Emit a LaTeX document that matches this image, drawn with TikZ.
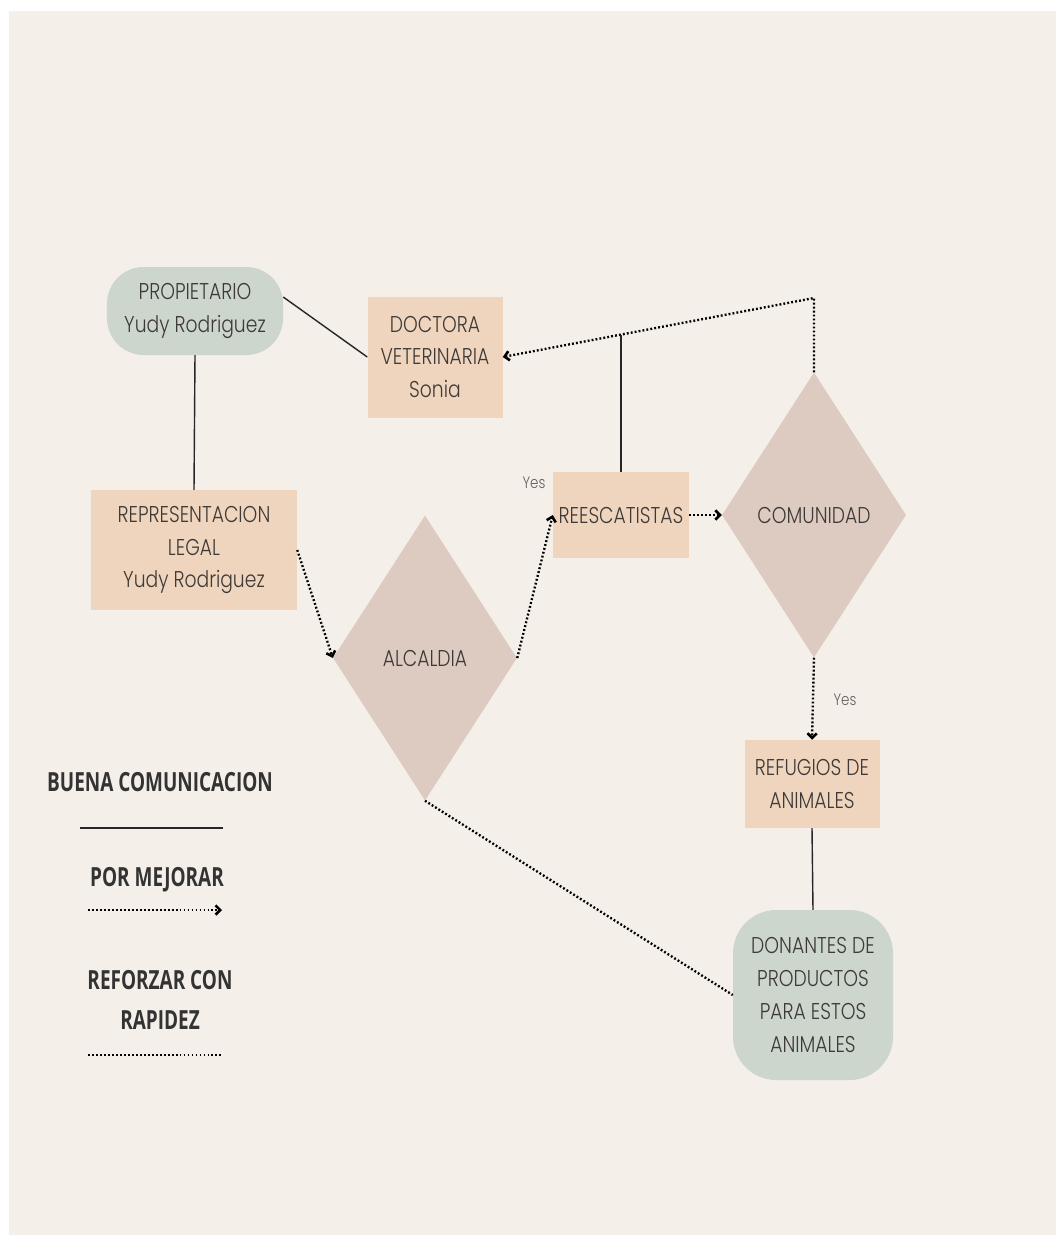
\documentclass[tikz,border=0pt]{standalone}
\usepackage{fontspec}
\usetikzlibrary{shapes.geometric,arrows.meta,calc}
\newfontfamily\boxfont{Poppins Light}[FakeStretch=0.82]
\newfontfamily\legendfont{Open Sans}[FakeStretch=0.72]
\definecolor{paper}{HTML}{F4EFE9}
\definecolor{sage}{HTML}{CCD6CD}
\definecolor{peach}{HTML}{F0D5BE}
\definecolor{rosy}{HTML}{DDCBC1}
\definecolor{ink}{HTML}{3E3A38}

\begin{document}
\begin{tikzpicture}[x=0.03cm, y=-0.03cm,
    every node/.style={font=\boxfont\fontsize{19.5}{28}\selectfont, text=ink, align=center},
    pill/.style={fill=sage, rounded corners=11mm, minimum width=52.8mm, minimum height=26.4mm},
    box/.style={fill=peach, inner sep=0pt},
    choice/.style={diamond, fill=rosy, inner sep=0pt, minimum width=55.2mm, minimum height=85.5mm},
    good/.style={draw=black!85, line width=1.2pt},
    better/.style={draw=black, line width=2pt, dash pattern=on 1.6pt off 1.8pt},
    arrowed/.style={-{Straight Barb[length=1.4mm,width=2.8mm,line width=2.2pt]}},
    yes/.style={font=\boxfont\fontsize{14}{16}\selectfont, text=ink!80},
    legendtext/.style={font=\legendfont\bfseries\fontsize{22.5}{34}\selectfont, text=black!80}]

    \useasboundingbox (0,0) rectangle (1056,1235);
    \fill[paper] (9,11) rectangle (1056,1235);

    \node[pill] (prop) at (195,311) {PROPIETARIO\\Yudy Rodriguez};
    \node[box, minimum width=40.5mm, minimum height=36.3mm] (doctora) at (435,357) {DOCTORA\\VETERINARIA\\Sonia};
    \node[box, minimum width=61.8mm, minimum height=36mm] (repr) at (194,550) {REPRESENTACION\\LEGAL\\Yudy Rodriguez};
    \node[choice] (alcaldia) at (425,658) {ALCALDIA};
    \node[box, minimum width=40.8mm, minimum height=25.8mm] (reesc) at (621,515) {REESCATISTAS};
    \node[choice] (comun) at (814,515) {COMUNIDAD};
    \node[box, minimum width=40.5mm, minimum height=26.4mm] (refug) at (812,784) {REFUGIOS DE\\ANIMALES};
    \node[pill, minimum width=48mm, minimum height=51mm, rounded corners=13mm] (donan) at (813,995) {DONANTES DE\\PRODUCTOS\\PARA ESTOS\\ANIMALES};

    \node[yes] (yes1) at (534,483) {Yes};
    \node[yes] (yes2) at (845,700) {Yes};

    \coordinate (corner) at (814,298);
    \draw[good] (prop.9) -- (doctora.west);
    \draw[good] (prop.south) -- (repr.north);
    \draw[better,arrowed] (repr.east) -- (alcaldia.west);
    \draw[better,arrowed] (alcaldia.east) -- (reesc.west);
    \draw[better,arrowed] (reesc.east) -- (comun.west);
    \draw[better,arrowed] (comun.north) -- (corner) -- (doctora.east);
    \coordinate (join) at ($(corner)!0.62!(doctora.east)$);
    \draw[good] (reesc.north) -- (reesc.north |- join);
    \draw[better,arrowed] (comun.south) -- (refug.north);
    \draw[good] (refug.south) -- (donan.north);
    \draw[better] (alcaldia.south) -- (donan.west);

    \node[legendtext] (goodkey) at (160,782) {BUENA COMUNICACION};
    \coordinate (g1) at (80,828);
    \coordinate (g2) at (223,828);
    \draw[good] (g1) -- (g2);
    \node[legendtext] (betterkey) at (157,880) {POR MEJORAR};
    \coordinate (b1) at (88,910);
    \coordinate (b2) at (222,910);
    \draw[better,arrowed] (b1) -- (b2);
    \node[legendtext] (fastkey) at (160,1000) {REFORZAR CON\\RAPIDEZ};
    \coordinate (f1) at (88,1055);
    \coordinate (f2) at (223,1055);
    \draw[better] (f1) -- (f2);
\end{tikzpicture}
\end{document}
